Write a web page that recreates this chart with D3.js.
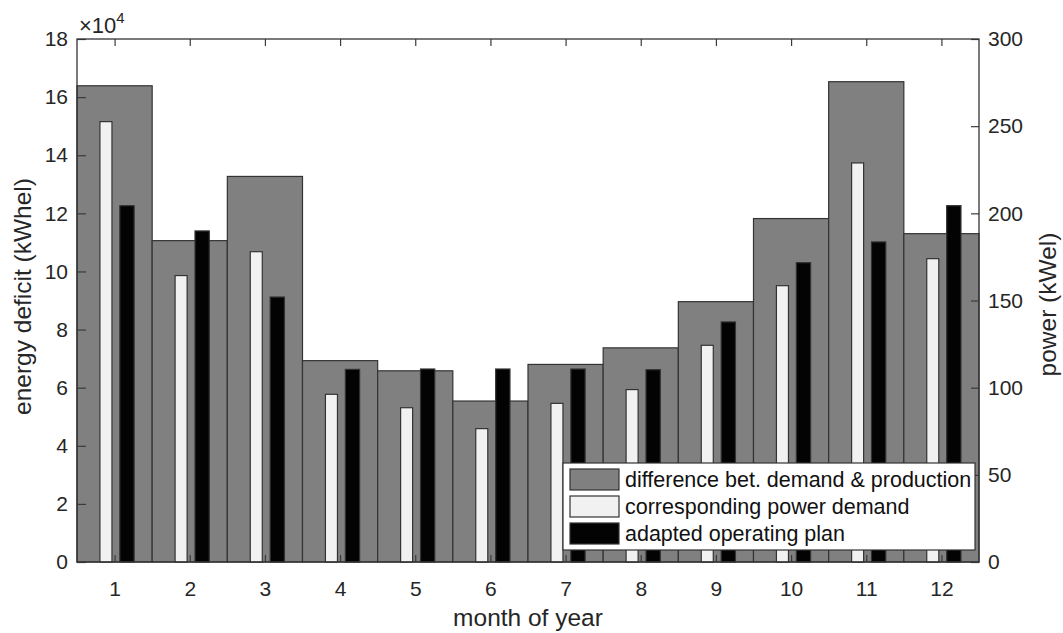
<!DOCTYPE html>
<html lang="en">
<head>
  <meta charset="UTF-8">
  <title>Energy deficit per month</title>
  <script src="https://d3js.org/d3.v7.min.js"></script>
  <style>
    body {
      margin: 0;
      padding: 0;
      background: #fff;
      font-family: "Liberation Sans", Arial, sans-serif;
    }
    .axis text {
      font-family: "Liberation Sans", Arial, sans-serif;
      font-size: 21px;
      fill: #262626;
    }
    .axis line {
      stroke: #3a3a3a;
      stroke-width: 1.2;
    }
    .label {
      font-size: 24.5px;
      fill: #262626;
    }
    .legend text {
      font-size: 21.5px;
      fill: #111;
    }
  </style>
</head>
<body>
  <div id="chart"></div>

  <script>
  // values
  const months = [1, 2, 3, 4, 5, 6, 7, 8, 9, 10, 11, 12];
  const energyDeficit = [16.39, 11.06, 13.27, 6.93, 6.58, 5.54, 6.80, 7.37, 8.96, 11.82, 16.53, 11.30]; // x 10^4 kWhel
  const powerDemand = [252.6, 164.3, 178.0, 96.2, 88.5, 76.5, 91.0, 98.9, 124.3, 158.5, 228.9, 174.0]; // kWel
  const operatingPlan = [204.4, 189.9, 152.0, 110.5, 110.7, 110.7, 110.7, 110.3, 137.7, 171.7, 183.6, 204.4]; // kWel
  const leftTicks = [0, 2, 4, 6, 8, 10, 12, 14, 16, 18];
  const rightTicks = [0, 50, 100, 150, 200, 250, 300];
  const legendLabels = ["difference bet. demand & production", "corresponding power demand", "adapted operating plan"];

  const width = 1063, height = 633;
  const margin = { top: 39, right: 84, bottom: 71, left: 77 };
  const innerW = width - margin.left - margin.right;
  const innerH = height - margin.top - margin.bottom;

  const colors = { gray: "#808080", white: "#f0f1f0", black: "#030303" };
  const edge = "#333";

  const svg = d3.select("#chart").append("svg")
    .attr("width", width)
    .attr("height", height);

  const g = svg.append("g").attr("transform", `translate(${margin.left},${margin.top})`);

  const x = d3.scaleLinear().domain([0.5, 12.5]).range([0, innerW]);
  const yLeft = d3.scaleLinear().domain([0, 18]).range([innerH, 0]);
  const yRight = d3.scaleLinear().domain([0, 300]).range([innerH, 0]);

  // gray: full month width
  g.selectAll(".deficit")
    .data(months)
    .enter().append("rect")
    .attr("class", "deficit")
    .attr("x", (d) => x(d - 0.5))
    .attr("width", (d) => x(d + 0.5) - x(d - 0.5))
    .attr("y", (d, i) => yLeft(energyDeficit[i]))
    .attr("height", (d, i) => innerH - yLeft(energyDeficit[i]))
    .style("fill", colors.gray)
    .style("stroke", edge)
    .style("stroke-width", 1.2);

  g.selectAll(".demand")
    .data(months)
    .enter().append("rect")
    .attr("class", "demand")
    .attr("x", (d) => x(d - 0.195))
    .attr("width", (d) => x(d - 0.035) - x(d - 0.195))
    .attr("y", (d, i) => yRight(powerDemand[i]))
    .attr("height", (d, i) => innerH - yRight(powerDemand[i]))
    .style("fill", colors.white)
    .style("stroke", edge)
    .style("stroke-width", 1.2);

  g.selectAll(".plan")
    .data(months)
    .enter().append("rect")
    .attr("class", "plan")
    .attr("x", (d) => x(d + 0.07))
    .attr("width", (d) => x(d + 0.26) - x(d + 0.07))
    .attr("y", (d, i) => yRight(operatingPlan[i]))
    .attr("height", (d, i) => innerH - yRight(operatingPlan[i]))
    .style("fill", colors.black)
    .style("stroke", edge)
    .style("stroke-width", 1.2);

  // axes, ticks pointing inwards like matlab
  const axisB = g.append("g").attr("class", "axis")
    .attr("transform", `translate(0,${innerH})`)
    .call(d3.axisBottom(x).tickValues(months).tickSize(-7).tickSizeOuter(0).tickPadding(19));
  const axisT = g.append("g").attr("class", "axis")
    .call(d3.axisTop(x).tickValues(months).tickSize(-7).tickSizeOuter(0).tickFormat(""));
  const axisL = g.append("g").attr("class", "axis")
    .call(d3.axisLeft(yLeft).tickValues(leftTicks).tickSize(-9).tickSizeOuter(0).tickPadding(9));
  const axisR = g.append("g").attr("class", "axis")
    .attr("transform", `translate(${innerW},0)`)
    .call(d3.axisRight(yRight).tickValues(rightTicks).tickSize(-8).tickSizeOuter(0).tickPadding(9));
  [axisB, axisT, axisL, axisR].forEach((a) => a.select(".domain").remove());

  g.append("rect")
    .attr("width", innerW)
    .attr("height", innerH)
    .style("fill", "none")
    .style("stroke", edge)
    .style("stroke-width", 1.3);

  // exponent
  const expo = g.append("text")
    .attr("x", 2)
    .attr("y", -6)
    .style("font-size", "22px")
    .style("fill", "#262626");
  expo.append("tspan").text("\u00d710");
  expo.append("tspan").attr("dy", -10).style("font-size", "15px").text("4");

  // axis labels
  svg.append("text").attr("class", "label")
    .attr("x", margin.left + innerW / 2)
    .attr("y", 626)
    .attr("text-anchor", "middle")
    .text("month of year");

  svg.append("text").attr("class", "label")
    .attr("transform", `translate(31,${margin.top + innerH / 2 - 4}) rotate(-90)`)
    .attr("text-anchor", "middle")
    .text("energy deficit (kWhel)");

  svg.append("text").attr("class", "label")
    .attr("transform", `translate(1056,${margin.top + innerH / 2 + 4}) rotate(-90)`)
    .attr("text-anchor", "middle")
    .text("power (kWel)");

  // legend
  const legend = svg.append("g").attr("class", "legend").attr("transform", "translate(563,463)");
  legend.append("rect")
    .attr("width", 412)
    .attr("height", 87)
    .style("fill", "#fff")
    .style("stroke", edge)
    .style("stroke-width", 1.2);

  const swatchColors = [colors.gray, colors.white, colors.black];
  const rows = legend.selectAll(".row")
    .data(legendLabels)
    .enter().append("g")
    .attr("class", "row")
    .attr("transform", (d, i) => `translate(0,${6 + i * 27})`);

  rows.append("rect")
    .attr("x", 7)
    .attr("width", 49)
    .attr("height", 21)
    .style("fill", (d, i) => swatchColors[i])
    .style("stroke", edge)
    .style("stroke-width", 1.2);

  rows.append("text")
    .attr("x", 62)
    .attr("y", 18)
    .text((d) => d);
  </script>
</body>
</html>
